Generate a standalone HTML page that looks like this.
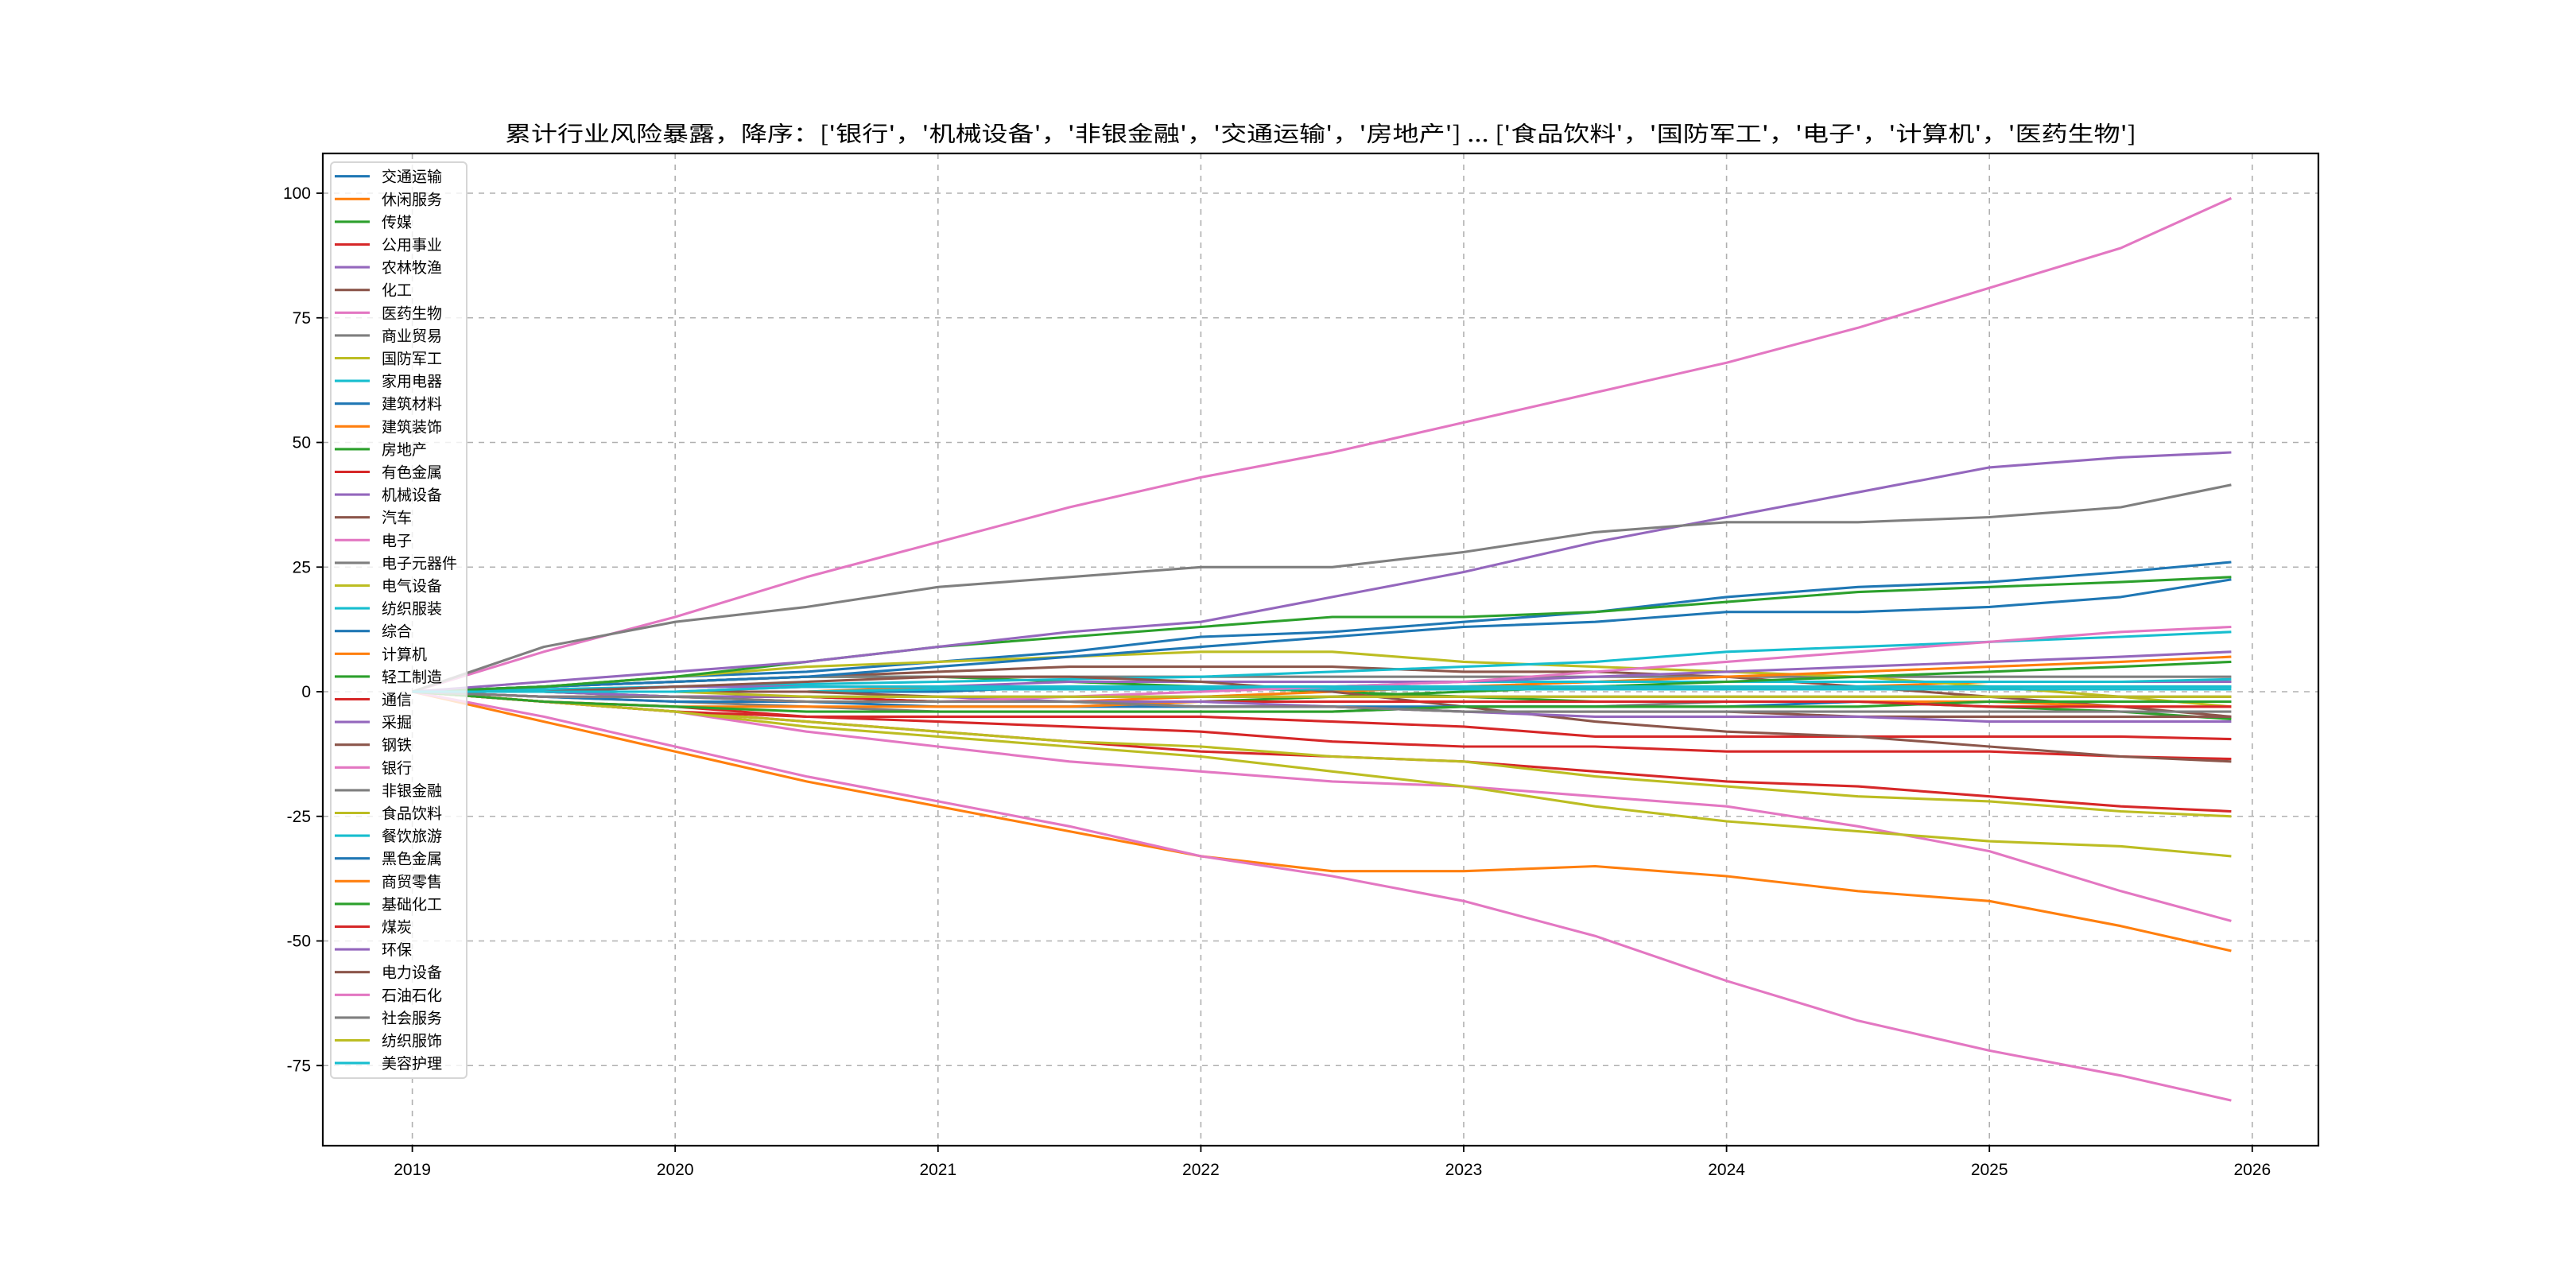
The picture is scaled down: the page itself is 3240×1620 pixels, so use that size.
<!DOCTYPE html>
<html><head><meta charset="utf-8">
<style>
html,body{margin:0;padding:0;background:#fff;}
svg{display:block;font-family:"Liberation Sans","Noto Sans CJK SC",sans-serif;}
</style></head>
<body>
<svg id="chart" width="3240" height="1620" viewBox="0 0 3240 1620" xmlns="http://www.w3.org/2000/svg">
<rect width="3240" height="1620" fill="#fff"/>
<text x="1661" y="178" text-anchor="middle" font-size="27" textLength="2052" lengthAdjust="spacingAndGlyphs" fill="#000" style="font-family:'Noto Sans CJK SC',sans-serif">累计行业风险暴露，降序：['银行'，'机械设备'，'非银金融'，'交通运输'，'房地产'] ... ['食品饮料'，'国防军工'，'电子'，'计算机'，'医药生物']</text>
<g id="grid"></g>
<g id="series"></g>
<rect x="406" y="193" width="2510" height="1248" fill="none" stroke="#000" stroke-width="2.2"/>
<g id="axes"></g>
<g id="legend"></g>
</svg>
<script>
const times = [2019,2019.5,2020,2020.5,2021,2021.5,2022,2022.5,2023,2023.5,2024,2024.5,2025,2025.5,2025.92];
const xTicks = [2019,2020,2021,2022,2023,2024,2025,2026];
const yTicks = [-75,-50,-25,0,25,50,75,100];
const names = ["交通运输","休闲服务","传媒","公用事业","农林牧渔","化工","医药生物","商业贸易","国防军工","家用电器","建筑材料","建筑装饰","房地产","有色金属","机械设备","汽车","电子","电子元器件","电气设备","纺织服装","综合","计算机","轻工制造","通信","采掘","钢铁","银行","非银金融","食品饮料","餐饮旅游","黑色金属","商贸零售","基础化工","煤炭","环保","电力设备","石油石化","社会服务","纺织服饰","美容护理"];
const s_交通运输 = [0,1,3,4,6,8,11,12,14,16,19,21,22,24,26];
const s_休闲服务 = [0,0,0,0,1,1,1,1,1,1,1,1,2,2,2];
const s_传媒 = [0,1,2,3,3,2,1,0,-1,-2,-2,-2,-3,-4,-5.5];
const s_公用事业 = [0,-2,-3,-5,-6,-7,-8,-10,-11,-11,-12,-12,-12,-13,-13.5];
const s_农林牧渔 = [0,0,0,1,1,1,1,1,1,2,2,2,2,2,2];
const s_化工 = [0,1,2,3,4,5,5,5,4,4,3,1,-1,-3,-5];
const s_医药生物 = [0,8,15,23,30,37,43,48,54,60,66,73,81,89,99];
const s_商业贸易 = [0,1,2,3,3,3,3,3,3,3,3,3,3,3,3];
const s_国防军工 = [0,1,3,5,6,7,8,8,6,5,4,3,1,-1,-3];
const s_家用电器 = [0,0.5,1,1.5,2,2.5,3,4,5,6,8,9,10,11,12];
const s_建筑材料 = [0,1,2,3,5,7,9,11,13,14,16,16,17,19,22.5];
const s_建筑装饰 = [0,-1,-1,-2,-2,-2,-1,0,1,2,3,4,5,6,7];
const s_房地产 = [0,1,3,6,9,11,13,15,15,16,18,20,21,22,23];
const s_有色金属 = [0,-2,-4,-6,-8,-10,-12,-13,-14,-16,-18,-19,-21,-23,-24];
const s_机械设备 = [0,2,4,6,9,12,14,19,24,30,35,40,45,47,48];
const s_汽车 = [0,0,-1,-1,-2,-2,-3,-3,-4,-4,-4,-5,-5,-5,-5];
const s_电子 = [0,-2,-4,-8,-11,-14,-16,-18,-19,-21,-23,-27,-32,-40,-46];
const s_电子元器件 = [0,-1,-2,-3,-4,-4,-4,-4,-3,-3,-2,-2,-2,-2,-2];
const s_电气设备 = [0,-2,-4,-6,-8,-10,-11,-13,-14,-17,-19,-21,-22,-24,-25];
const s_纺织服装 = [0,0,1,1,1,1,1,1,2,2,2,2,2,2,2.5];
const s_综合 = [0,0,0,0,0,1,1,1,1,1,1,1,1,1,1];
const s_计算机 = [0,-6,-12,-18,-23,-28,-33,-36,-36,-35,-37,-40,-42,-47,-52];
const s_轻工制造 = [0,0,-1,-1,-2,-2,-2,-1,0,1,2,3,4,5,6];
const s_通信 = [0,-2,-4,-5,-5,-5,-5,-6,-7,-9,-9,-9,-9,-9,-9.5];
const s_采掘 = [0,0,1,1,1,2,2,2,2,3,4,5,6,7,8];
const s_钢铁 = [0,0,1,2,3,3,2,0,-3,-6,-8,-9,-11,-13,-14];
const s_银行 = [0,-5,-11,-17,-22,-27,-33,-37,-42,-49,-58,-66,-72,-77,-82];
const s_非银金融 = [0,9,14,17,21,23,25,25,28,32,34,34,35,37,41.5];
const s_食品饮料 = [0,-2,-4,-7,-9,-11,-13,-16,-19,-23,-26,-28,-30,-31,-33];
const s_餐饮旅游 = [0,0,0,0,0.5,0.5,0.5,0.5,0.5,0.5,0.5,0.5,0.5,0.5,0.5];
const s_黑色金属 = [0,-1,-2,-2,-3,-3,-3,-3,-3,-3,-3,-2,-2,-2,-2];
const s_商贸零售 = [0,-2,-3,-3,-3,-3,-2,-2,-2,-2,-2,-2,-2,-3,-3];
const s_基础化工 = [0,-2,-3,-4,-4,-4,-4,-4,-3,-3,-3,-3,-2,-2,-2];
const s_煤炭 = [0,-1,-1,-1,-2,-2,-2,-2,-2,-2,-2,-2,-3,-3,-3];
const s_环保 = [0,0,-1,-1,-1,-2,-2,-3,-4,-5,-5,-5,-6,-6,-6];
const s_电力设备 = [0,0,0,0,-1,-1,-1,-1,-1,-1,-1,-1,-1,-1,-1];
const s_石油石化 = [0,-1,-1,-2,-2,-1,0,1,2,4,6,8,10,12,13];
const s_社会服务 = [0,-1,-1,-2,-2,-2,-3,-3,-4,-4,-4,-4,-4,-4,-4];
const s_纺织服饰 = [0,0,0,-1,-1,-1,-1,-1,-1,-1,-1,-1,-1,-1,-1];
const s_美容护理 = [0,0,0,1,1,1,1,1,1,1,1,1,1,1,1];
const seriesValues = [s_交通运输,s_休闲服务,s_传媒,s_公用事业,s_农林牧渔,s_化工,s_医药生物,s_商业贸易,s_国防军工,s_家用电器,s_建筑材料,s_建筑装饰,s_房地产,s_有色金属,s_机械设备,s_汽车,s_电子,s_电子元器件,s_电气设备,s_纺织服装,s_综合,s_计算机,s_轻工制造,s_通信,s_采掘,s_钢铁,s_银行,s_非银金融,s_食品饮料,s_餐饮旅游,s_黑色金属,s_商贸零售,s_基础化工,s_煤炭,s_环保,s_电力设备,s_石油石化,s_社会服务,s_纺织服饰,s_美容护理];

const palette = ["#1f77b4","#ff7f0e","#2ca02c","#d62728","#9467bd","#8c564b","#e377c2","#7f7f7f","#bcbd22","#17becf"];
const NS = "http://www.w3.org/2000/svg";
const L=406,R=2916,T=193,B=1441;
function xs(t){return 518.6+(t-2019)*330.6;}
function ys(v){return 870-v*6.27;}
function mk(tag,attrs,parent){const e=document.createElementNS(NS,tag);for(const k in attrs)e.setAttribute(k,attrs[k]);parent.appendChild(e);return e;}

const grid=document.getElementById('grid'), axes=document.getElementById('axes');
xTicks.forEach(t=>{
  const x=xs(t);
  const g=mk('line',{x1:x,x2:x,y1:T,y2:B,stroke:'#b0b0b0','stroke-width':1.6,'stroke-dasharray':'7,7'},grid);
  
  
  const tk=mk('line',{x1:x,x2:x,y1:B,y2:B+8,stroke:'#000','stroke-width':1.8},axes);
  
  
  const lb=mk('text',{x:x,y:B+37,'text-anchor':'middle','font-size':21,fill:'#000'},axes);
  lb.textContent=t;
  
  
});
yTicks.forEach(v=>{
  const y=ys(v);
  const g=mk('line',{x1:L,x2:R,y1:y,y2:y,stroke:'#b0b0b0','stroke-width':1.6,'stroke-dasharray':'7,7'},grid);
  
  
  const tk=mk('line',{x1:L-8,x2:L,y1:y,y2:y,stroke:'#000','stroke-width':1.8},axes);
  
  
  const lb=mk('text',{x:L-15,y:y+7,'text-anchor':'end','font-size':21,fill:'#000'},axes);
  lb.textContent=v;
  
  
});

const sg=document.getElementById('series');
seriesValues.forEach((vals,i)=>{
  const pts=vals.map((v,j)=>xs(times[j]).toFixed(1)+','+ys(v).toFixed(1)).join(' ');
  const pl=mk('polyline',{points:pts,fill:'none',stroke:palette[i%10],'stroke-width':3.1,'stroke-linejoin':'round'},sg);
  
  
});

const lg=document.getElementById('legend');
const box=mk('rect',{x:416,y:204,width:171,height:1152,rx:5,fill:'#fff','fill-opacity':0.8,stroke:'#d6d6d6','stroke-width':2},lg);


names.forEach((n,i)=>{
  const y=221.7+i*28.6;
  const ln=mk('line',{x1:421,x2:465,y1:y,y2:y,stroke:palette[i%10],'stroke-width':3.1},lg);
  
  
  const tx=mk('text',{x:480,y:y+7,'font-size':19,fill:'#000'},lg);
  tx.textContent=n;
  
  
});
</script>
</body></html>
